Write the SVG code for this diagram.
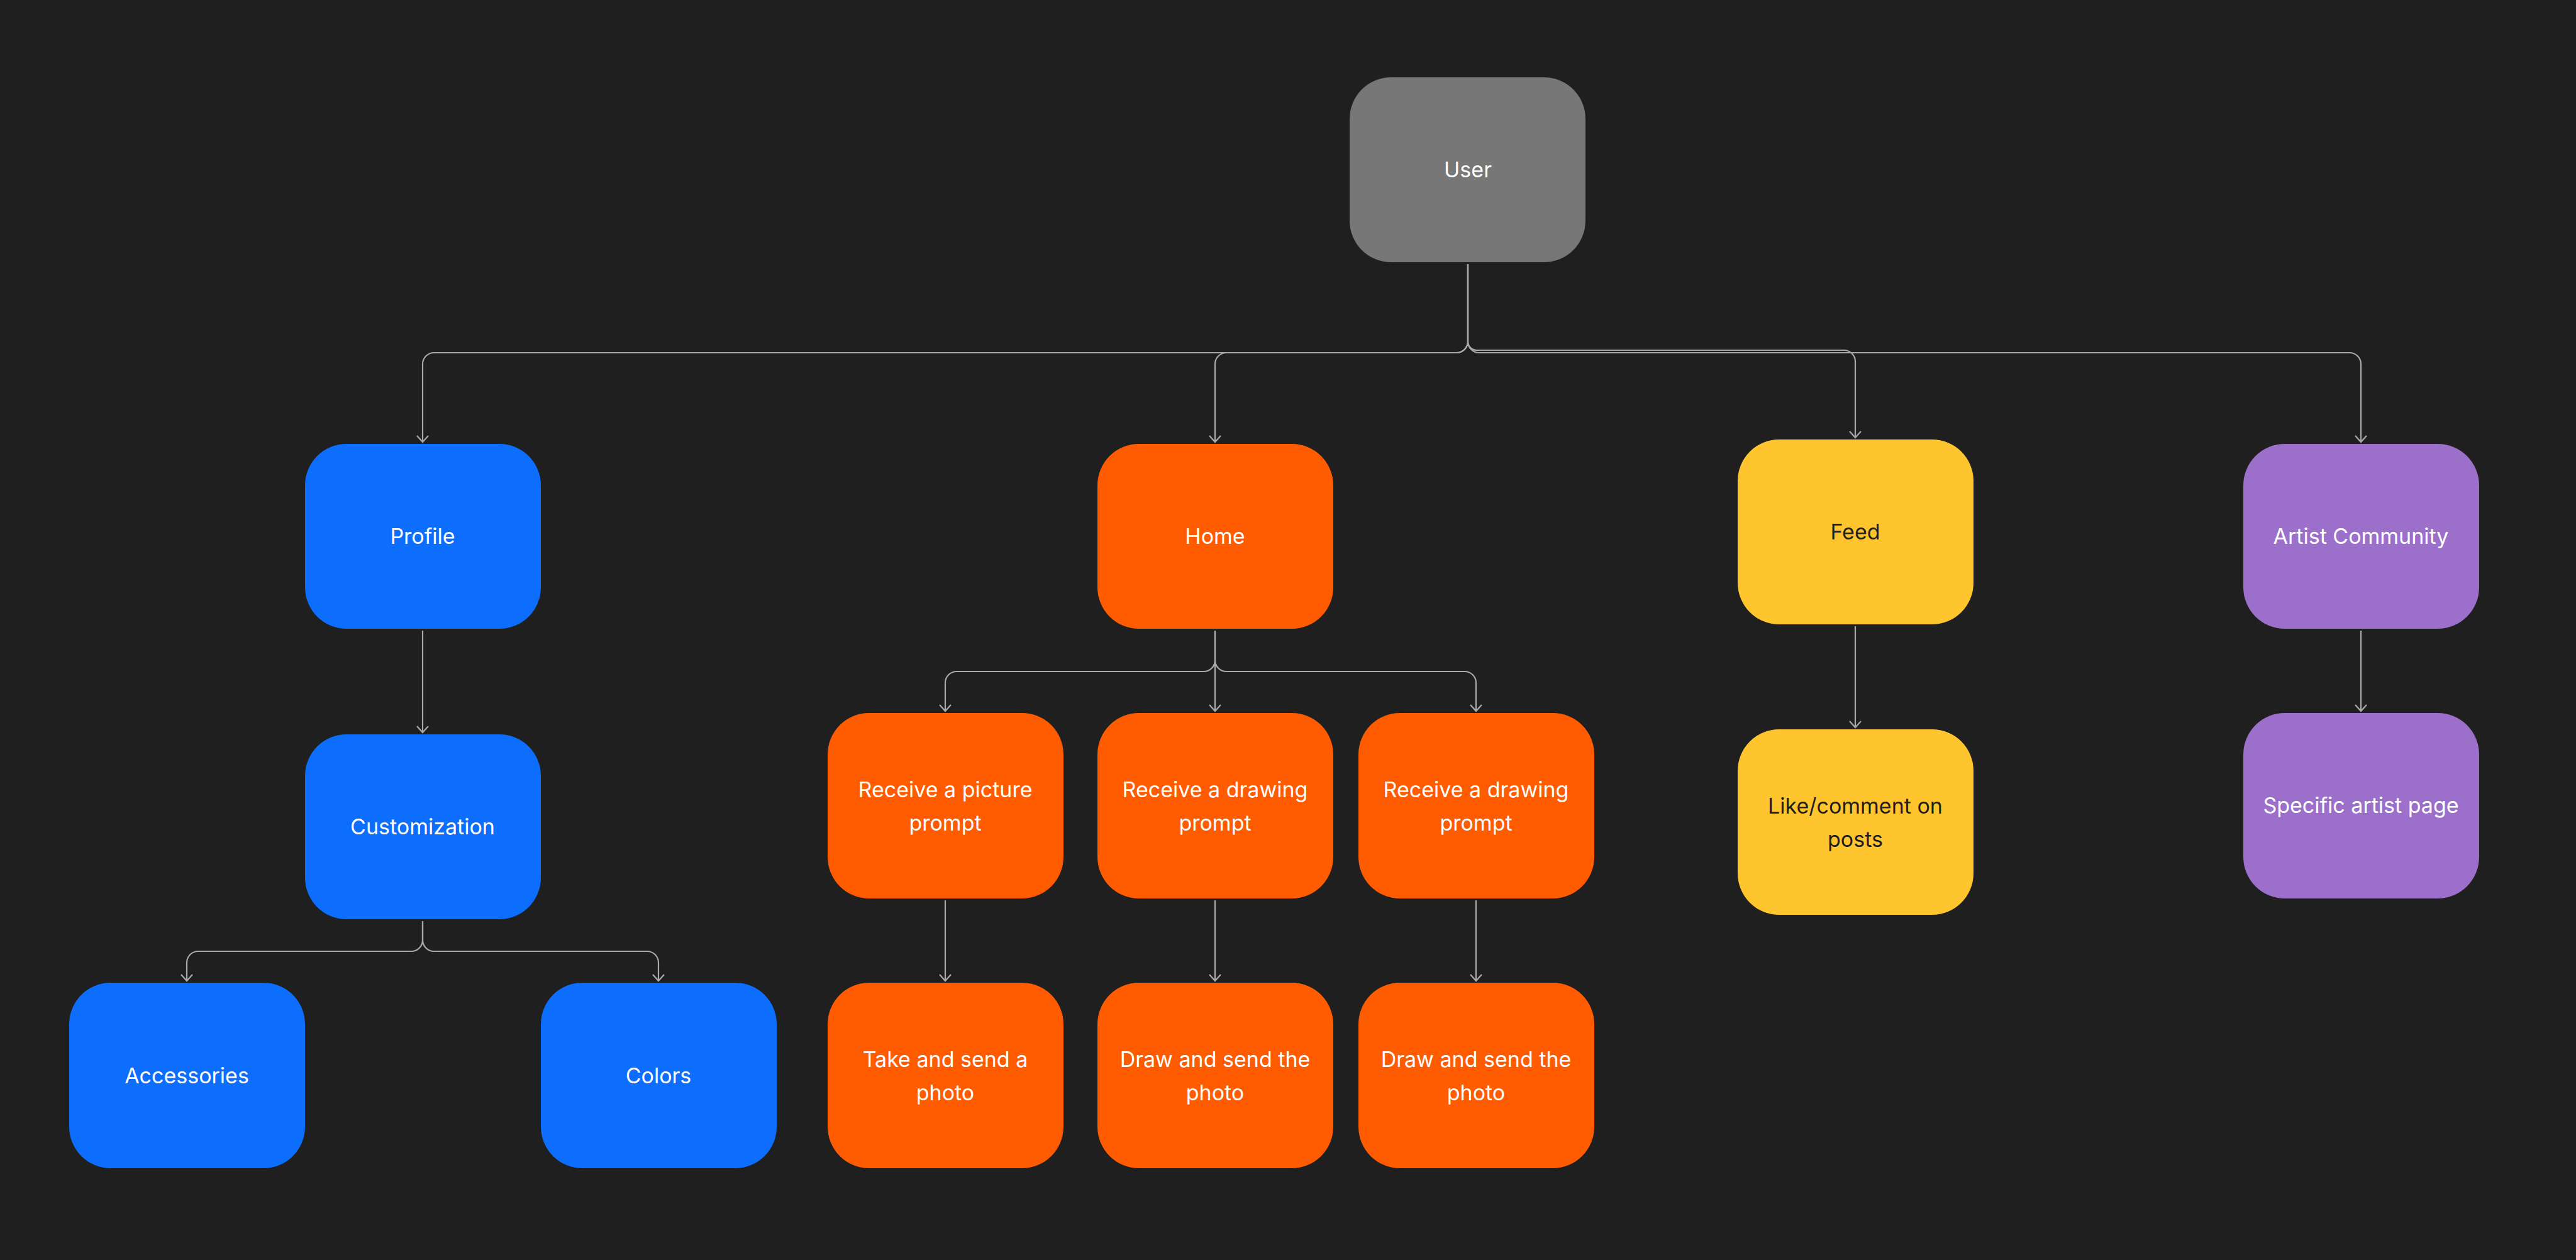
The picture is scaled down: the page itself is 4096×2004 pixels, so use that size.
<svg xmlns="http://www.w3.org/2000/svg" width="4096" height="2004" viewBox="0 0 4096 2004">
<style>
.bg{fill:#1f1f1f}
.n{rx:66px;ry:66px}
.gray{fill:#777777}
.blue{fill:#0d6efd}
.orange{fill:#ff5b00}
.yellow{fill:#ffc52f}
.purple{fill:#9b6fca}
text{font-family:Inter,"Noto Sans","Liberation Sans",sans-serif;font-size:34px;text-anchor:middle;fill:#ffffff}
text.dk{fill:#1e1e1e}
.c{fill:none;stroke:#a9a9a9;stroke-width:2.2;marker-end:url(#arr)}
</style>
<defs>
<marker id="arr" markerUnits="userSpaceOnUse" markerWidth="24" markerHeight="24" viewBox="-12 -12 24 24" refX="0" refY="0" orient="auto" overflow="visible">
<path d="M-10,-9 L0,0 L-10,9" fill="none" stroke="#a9a9a9" stroke-width="2.2"/>
</marker>
</defs>
<rect class="bg" x="0" y="0" width="4096" height="2004"/>

<g id="connectors">
<path class="c" d="M2334,420 V543 A18,18 0 0 1 2316,561 H690 A18,18 0 0 0 672,579 V703"/>
<path class="c" d="M2334,420 V543 A18,18 0 0 1 2316,561 H1950 A18,18 0 0 0 1932,579 V703"/>
<path class="c" d="M2334,420 V543 A14,14 0 0 0 2348,557 H2932 A18,18 0 0 1 2950,575 V696"/>
<path class="c" d="M2334,420 V543 A18,18 0 0 0 2352,561 H3736 A18,18 0 0 1 3754,579 V703"/>
<path class="c" d="M672,1003 V1165"/>
<path class="c" d="M672,1465 V1495 A18,18 0 0 1 654,1513 H315 A18,18 0 0 0 297,1531 V1560"/>
<path class="c" d="M672,1465 V1495 A18,18 0 0 0 690,1513 H1029 A18,18 0 0 1 1047,1531 V1560"/>
<path class="c" d="M1932,1003 V1050 A18,18 0 0 1 1914,1068 H1521 A18,18 0 0 0 1503,1086 V1131"/>
<path class="c" d="M1932,1003 V1131"/>
<path class="c" d="M1932,1003 V1050 A18,18 0 0 0 1950,1068 H2329 A18,18 0 0 1 2347,1086 V1131"/>
<path class="c" d="M1503,1432 V1560"/>
<path class="c" d="M1932,1432 V1560"/>
<path class="c" d="M2347,1432 V1560"/>
<path class="c" d="M2950,996 V1157"/>
<path class="c" d="M3754,1003 V1131"/>
</g>

<g id="user"><rect class="n gray" x="2146" y="123" width="375" height="294"/><text x="2334" y="282">User</text></g>

<g id="profile"><rect class="n blue" x="485" y="706" width="375" height="294"/><text x="672" y="865">Profile</text></g>
<g id="customization"><rect class="n blue" x="485" y="1168" width="375" height="294"/><text x="672" y="1327">Customization</text></g>
<g id="accessories"><rect class="n blue" x="110" y="1563" width="375" height="295"/><text x="297" y="1723">Accessories</text></g>
<g id="colors"><rect class="n blue" x="860" y="1563" width="375" height="295"/><text x="1047" y="1723">Colors</text></g>

<g id="home"><rect class="n orange" x="1745" y="706" width="375" height="294"/><text x="1932" y="865">Home</text></g>
<g id="receive-picture"><rect class="n orange" x="1316" y="1134" width="375" height="295"/><text x="1503" y="1268">Receive a picture</text><text x="1503" y="1321">prompt</text></g>
<g id="receive-drawing-1"><rect class="n orange" x="1745" y="1134" width="375" height="295"/><text x="1932" y="1268">Receive a drawing</text><text x="1932" y="1321">prompt</text></g>
<g id="receive-drawing-2"><rect class="n orange" x="2160" y="1134" width="375" height="295"/><text x="2347" y="1268">Receive a drawing</text><text x="2347" y="1321">prompt</text></g>
<g id="take-send"><rect class="n orange" x="1316" y="1563" width="375" height="295"/><text x="1503" y="1697">Take and send a</text><text x="1503" y="1750">photo</text></g>
<g id="draw-send-1"><rect class="n orange" x="1745" y="1563" width="375" height="295"/><text x="1932" y="1697">Draw and send the</text><text x="1932" y="1750">photo</text></g>
<g id="draw-send-2"><rect class="n orange" x="2160" y="1563" width="375" height="295"/><text x="2347" y="1697">Draw and send the</text><text x="2347" y="1750">photo</text></g>

<g id="feed"><rect class="n yellow" x="2763" y="699" width="375" height="294"/><text class="dk" x="2950" y="858">Feed</text></g>
<g id="like-comment"><rect class="n yellow" x="2763" y="1160" width="375" height="295"/><text class="dk" x="2950" y="1294">Like/comment on</text><text class="dk" x="2950" y="1347">posts</text></g>

<g id="artist-community"><rect class="n purple" x="3567" y="706" width="375" height="294"/><text x="3754" y="865">Artist Community</text></g>
<g id="specific-artist"><rect class="n purple" x="3567" y="1134" width="375" height="295"/><text x="3754" y="1293">Specific artist page</text></g>
</svg>
